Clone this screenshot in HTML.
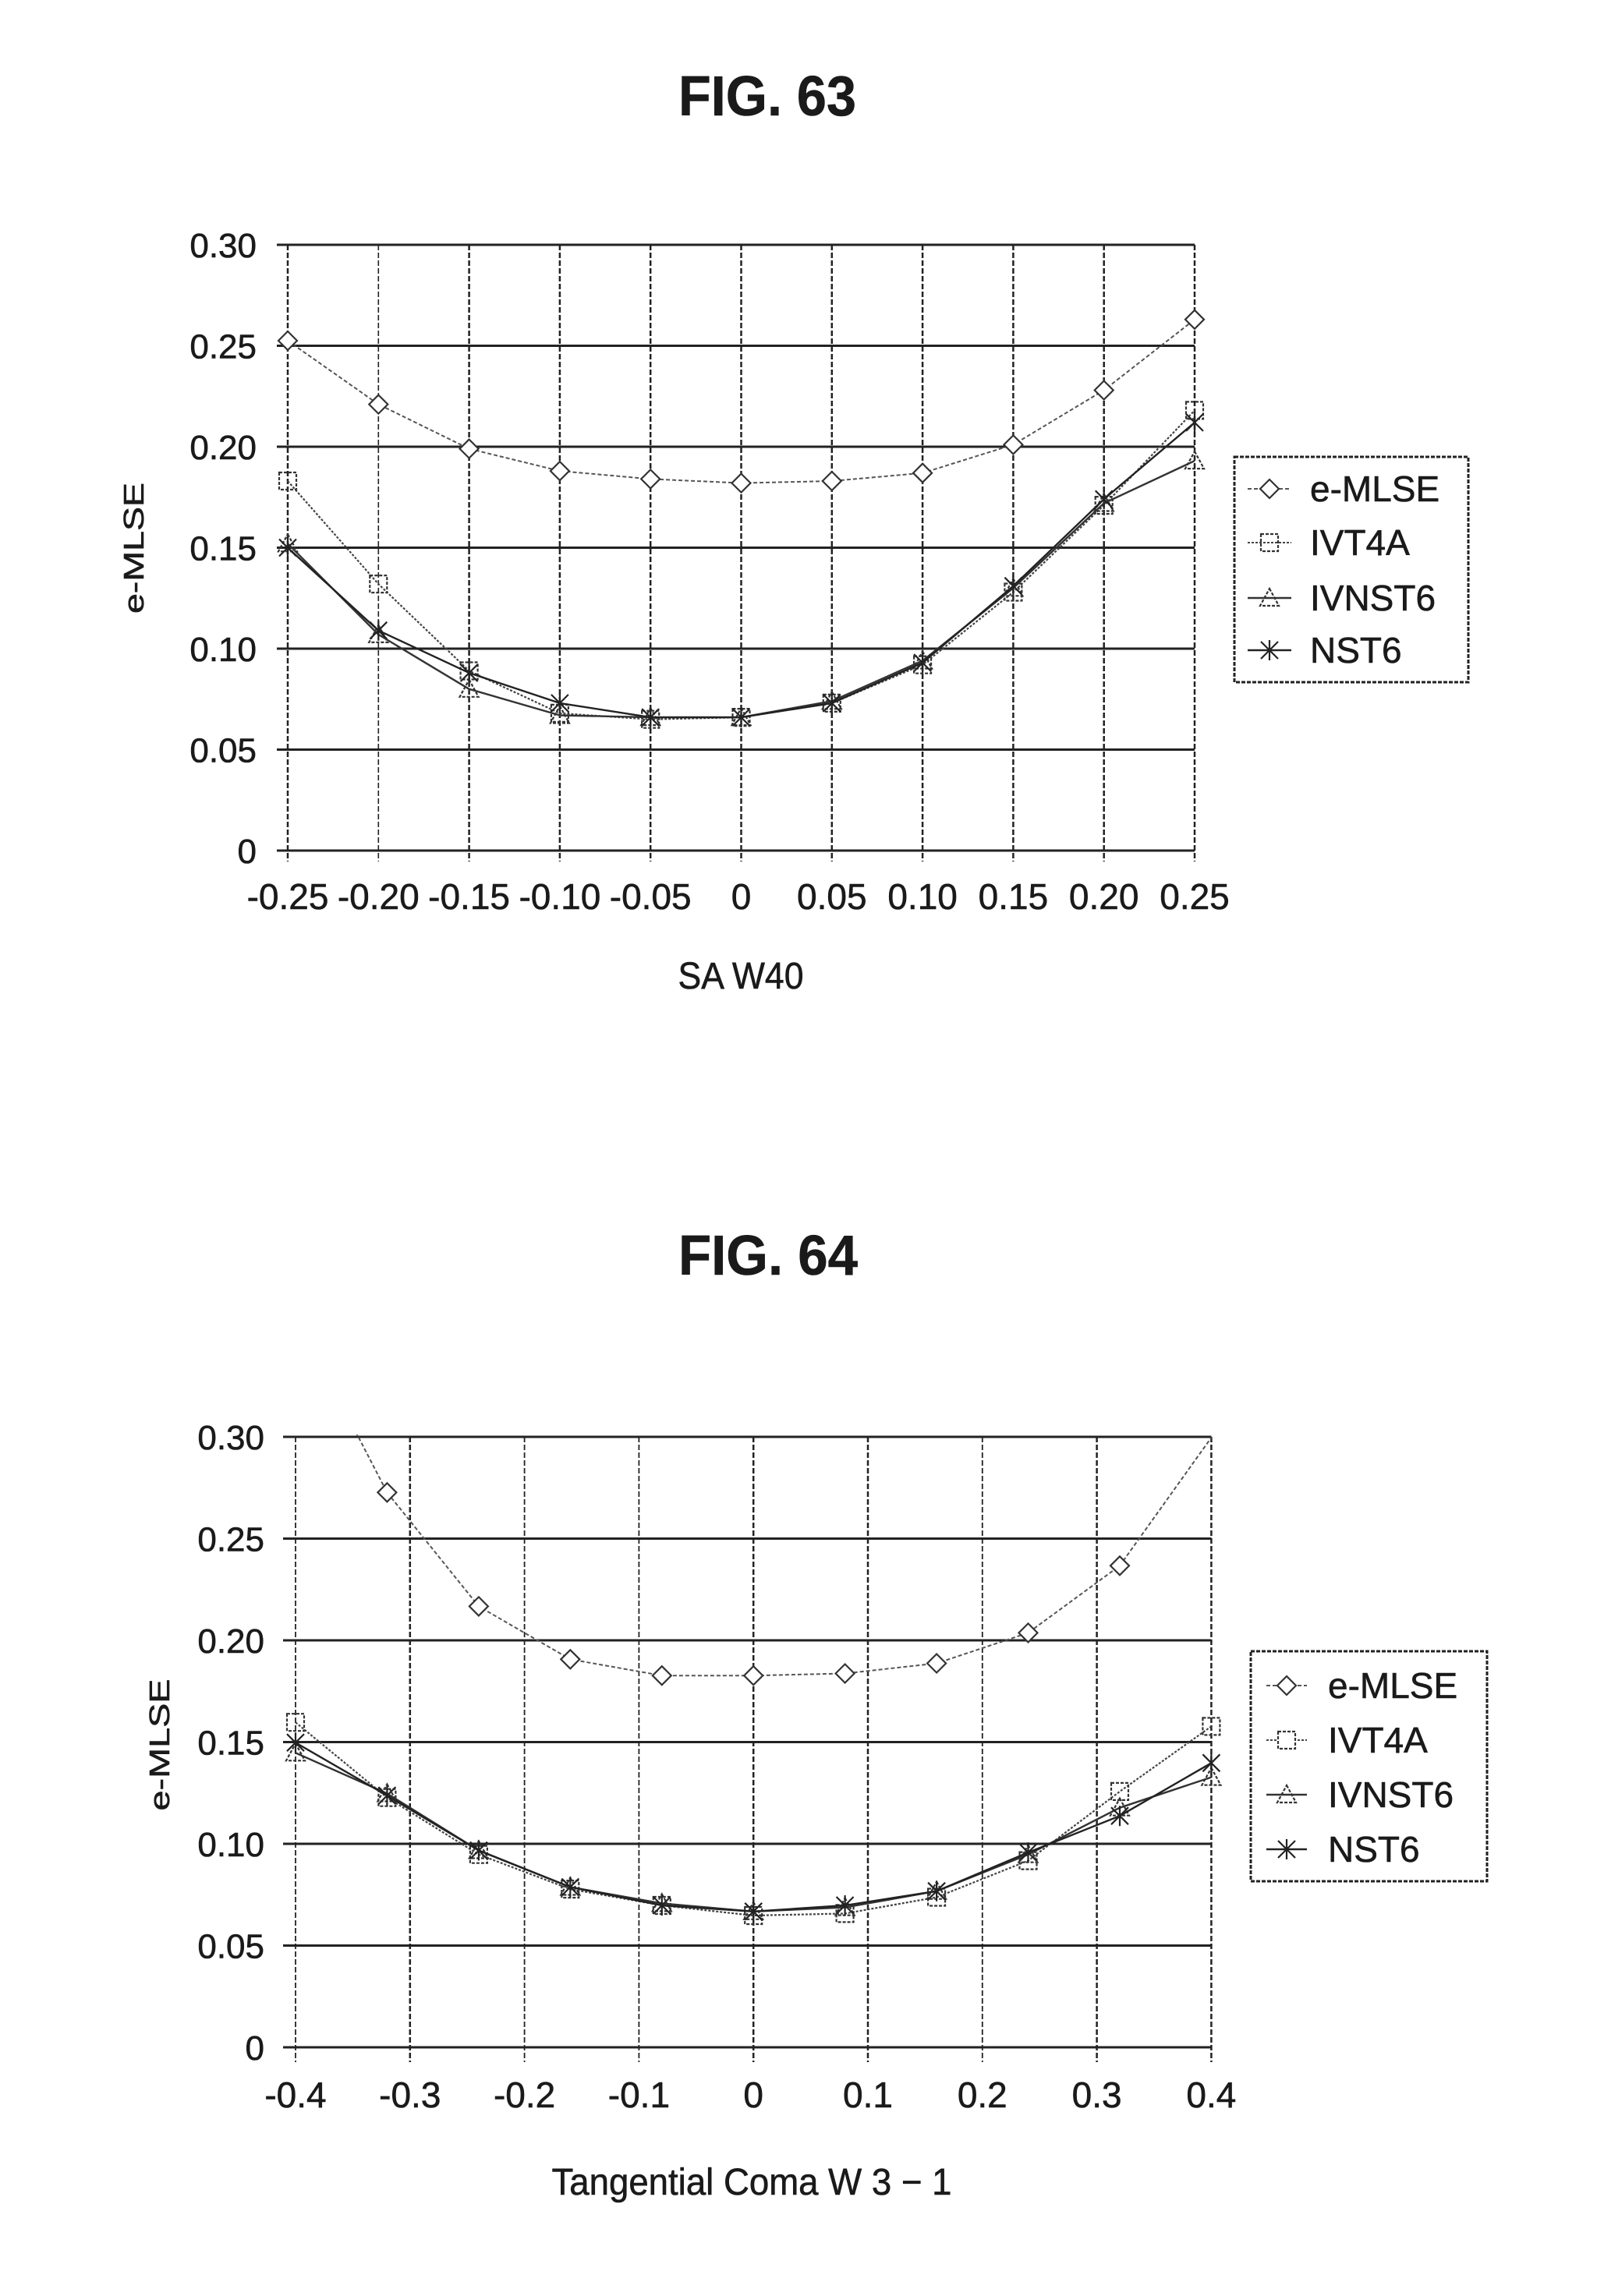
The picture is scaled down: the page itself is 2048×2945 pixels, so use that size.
<!DOCTYPE html>
<html>
<head>
<meta charset="utf-8">
<style>
  html, body { margin:0; padding:0; background:#fff; }
  svg { display:block; }
  text { font-family: "Liberation Sans", "DejaVu Sans", sans-serif; fill:#1a1a1a; stroke:#1a1a1a; stroke-width:0.6; }
</style>
</head>
<body>
<svg width="2048" height="2945" viewBox="0 0 2048 2945" xmlns="http://www.w3.org/2000/svg">
  <defs>
    <marker id="dia" markerUnits="userSpaceOnUse" markerWidth="30" markerHeight="30" refX="15" refY="15" overflow="visible">
      <path d="M15 3 L27 15 L15 27 L3 15 Z" fill="#fff" stroke="#333" stroke-width="2.2"/>
    </marker>
    <marker id="sq" markerUnits="userSpaceOnUse" markerWidth="30" markerHeight="30" refX="15" refY="15" overflow="visible">
      <rect x="4" y="4" width="22" height="22" fill="none" stroke="#333" stroke-width="2.2" stroke-dasharray="4 2"/>
    </marker>
    <marker id="tri" markerUnits="userSpaceOnUse" markerWidth="30" markerHeight="30" refX="15" refY="15" overflow="visible">
      <path d="M15 3 L27 25 L3 25 Z" fill="none" stroke="#333" stroke-width="2.2" stroke-dasharray="4 2"/>
    </marker>
    <marker id="xx" markerUnits="userSpaceOnUse" markerWidth="30" markerHeight="30" refX="15" refY="15" overflow="visible">
      <path d="M4 4 L26 26 M26 4 L4 26 M15 2 L15 28" fill="none" stroke="#222" stroke-width="2.2"/>
    </marker>
    <clipPath id="clip2"><rect x="370" y="1840" width="1200" height="800"/></clipPath>
  </defs>

  <!-- ================= FIG. 63 ================= -->
  <text x="984" y="148" font-size="72" font-weight="bold" text-anchor="middle" textLength="228" lengthAdjust="spacingAndGlyphs">FIG. 63</text>

  <g stroke="#222" stroke-width="3">
    <line x1="355" y1="314" x2="1532" y2="314"/>
    <line x1="355" y1="443.5" x2="1532" y2="443.5"/>
    <line x1="355" y1="573" x2="1532" y2="573"/>
    <line x1="355" y1="702.5" x2="1532" y2="702.5"/>
    <line x1="355" y1="832" x2="1532" y2="832"/>
    <line x1="355" y1="961.5" x2="1532" y2="961.5"/>
    <line x1="355" y1="1091" x2="1532" y2="1091"/>
  </g>
  <g stroke="#222" stroke-width="2.5" stroke-dasharray="7 3">
    <line x1="369" y1="314" x2="369" y2="1105"/>
    <line x1="485.3" y1="314" x2="485.3" y2="1105" stroke-width="1.6"/>
    <line x1="601.6" y1="314" x2="601.6" y2="1105"/>
    <line x1="717.9" y1="314" x2="717.9" y2="1105"/>
    <line x1="834.2" y1="314" x2="834.2" y2="1105"/>
    <line x1="950.5" y1="314" x2="950.5" y2="1105"/>
    <line x1="1066.8" y1="314" x2="1066.8" y2="1105"/>
    <line x1="1183.1" y1="314" x2="1183.1" y2="1105"/>
    <line x1="1299.4" y1="314" x2="1299.4" y2="1105"/>
    <line x1="1415.7" y1="314" x2="1415.7" y2="1105"/>
    <line x1="1532" y1="314" x2="1532" y2="1105"/>
  </g>

  <g font-size="44" text-anchor="end">
    <text x="329" y="330">0.30</text>
    <text x="329" y="459.5">0.25</text>
    <text x="329" y="589">0.20</text>
    <text x="329" y="718.5">0.15</text>
    <text x="329" y="848">0.10</text>
    <text x="329" y="977.5">0.05</text>
    <text x="329" y="1107">0</text>
  </g>
  <g font-size="46" text-anchor="middle">
    <text x="369" y="1166">-0.25</text>
    <text x="485.3" y="1166">-0.20</text>
    <text x="601.6" y="1166">-0.15</text>
    <text x="717.9" y="1166">-0.10</text>
    <text x="834.2" y="1166">-0.05</text>
    <text x="950.5" y="1166">0</text>
    <text x="1066.8" y="1166">0.05</text>
    <text x="1183.1" y="1166">0.10</text>
    <text x="1299.4" y="1166">0.15</text>
    <text x="1415.7" y="1166">0.20</text>
    <text x="1532" y="1166">0.25</text>
  </g>
  <text x="950" y="1268" font-size="48" text-anchor="middle" textLength="161" lengthAdjust="spacingAndGlyphs">SA W40</text>
  <text transform="translate(172,703) rotate(-90)" x="0" y="12" font-size="36" text-anchor="middle" textLength="168" lengthAdjust="spacingAndGlyphs">e-MLSE</text>

  <g fill="none" stroke-linejoin="round">
    <polyline stroke="#555" stroke-width="2" stroke-dasharray="5 3" marker-start="url(#dia)" marker-mid="url(#dia)" marker-end="url(#dia)"
      points="369,437 485.3,518.6 601.6,575.6 717.9,604.1 834.2,614.4 950.5,619.6 1066.8,617 1183.1,606.7 1299.4,570.4 1415.7,500.5 1532,409.8"/>
    <polyline stroke="#444" stroke-width="2.2" stroke-dasharray="3 2" marker-start="url(#sq)" marker-mid="url(#sq)" marker-end="url(#sq)"
      points="369,617 485.3,749.1 601.6,860.5 717.9,914.9 834.2,922.7 950.5,920.1 1066.8,901.9 1183.1,852.7 1299.4,759.5 1415.7,648.1 1532,526.4"/>
    <polyline stroke="#333" stroke-width="2.4" marker-start="url(#tri)" marker-mid="url(#tri)" marker-end="url(#tri)"
      points="369,697.3 485.3,813.9 601.6,883.8 717.9,917.5 834.2,920.1 950.5,920.1 1066.8,899.3 1183.1,847.5 1299.4,754.3 1415.7,645.5 1532,591.1"/>
    <polyline stroke="#222" stroke-width="2.4" marker-start="url(#xx)" marker-mid="url(#xx)" marker-end="url(#xx)"
      points="369,702.5 485.3,808.7 601.6,863.1 717.9,901.9 834.2,920.1 950.5,920.1 1066.8,901.9 1183.1,850.1 1299.4,751.7 1415.7,640.3 1532,541.9"/>
  </g>

  <rect x="1583" y="586" width="300" height="289" fill="#fff" stroke="#222" stroke-width="3" stroke-dasharray="5 2"/>
  <g fill="none">
    <line x1="1600" y1="627" x2="1656" y2="627" stroke="#555" stroke-width="2" stroke-dasharray="5 3"/>
    <path d="M1628 615 L1640 627 L1628 639 L1616 627 Z" fill="#fff" stroke="#333" stroke-width="2.2"/>
    <line x1="1600" y1="696" x2="1656" y2="696" stroke="#444" stroke-width="2" stroke-dasharray="3 2"/>
    <rect x="1617" y="685" width="22" height="22" stroke="#333" stroke-width="2.2" stroke-dasharray="4 2"/>
    <line x1="1600" y1="767" x2="1656" y2="767" stroke="#333" stroke-width="2.4"/>
    <path d="M1628 755 L1640 777 L1616 777 Z" stroke="#333" stroke-width="2.2" stroke-dasharray="4 2"/>
    <line x1="1600" y1="834" x2="1656" y2="834" stroke="#222" stroke-width="2.4"/>
    <path d="M1617 823 L1639 845 M1639 823 L1617 845 M1628 821 L1628 847" stroke="#222" stroke-width="2.2"/>
  </g>
  <g font-size="46">
    <text x="1680" y="643">e-MLSE</text>
    <text x="1680" y="712">IVT4A</text>
    <text x="1680" y="783">IVNST6</text>
    <text x="1680" y="850">NST6</text>
  </g>

  <!-- ================= FIG. 64 ================= -->
  <text x="985" y="1635" font-size="72" font-weight="bold" text-anchor="middle" textLength="230" lengthAdjust="spacingAndGlyphs">FIG. 64</text>

  <g stroke="#222" stroke-width="3">
    <line x1="363" y1="1843" x2="1553.4" y2="1843"/>
    <line x1="363" y1="1973.5" x2="1553.4" y2="1973.5"/>
    <line x1="363" y1="2104" x2="1553.4" y2="2104"/>
    <line x1="363" y1="2234.5" x2="1553.4" y2="2234.5"/>
    <line x1="363" y1="2365" x2="1553.4" y2="2365"/>
    <line x1="363" y1="2495.5" x2="1553.4" y2="2495.5"/>
    <line x1="363" y1="2626" x2="1553.4" y2="2626"/>
  </g>
  <g stroke="#222" stroke-width="2.5" stroke-dasharray="7 3">
    <line x1="379" y1="1843" x2="379" y2="2645" stroke-width="1.8"/>
    <line x1="525.8" y1="1843" x2="525.8" y2="2645"/>
    <line x1="672.6" y1="1843" x2="672.6" y2="2645" stroke-width="1.8"/>
    <line x1="819.4" y1="1843" x2="819.4" y2="2645" stroke-width="1.8"/>
    <line x1="966.2" y1="1843" x2="966.2" y2="2645"/>
    <line x1="1113" y1="1843" x2="1113" y2="2645"/>
    <line x1="1259.8" y1="1843" x2="1259.8" y2="2645" stroke-width="1.8"/>
    <line x1="1406.6" y1="1843" x2="1406.6" y2="2645"/>
    <line x1="1553.4" y1="1843" x2="1553.4" y2="2645"/>
  </g>

  <g font-size="44" text-anchor="end">
    <text x="339" y="1859">0.30</text>
    <text x="339" y="1989.5">0.25</text>
    <text x="339" y="2120">0.20</text>
    <text x="339" y="2250.5">0.15</text>
    <text x="339" y="2381">0.10</text>
    <text x="339" y="2511.5">0.05</text>
    <text x="339" y="2642">0</text>
  </g>
  <g font-size="46" text-anchor="middle">
    <text x="379" y="2703">-0.4</text>
    <text x="525.8" y="2703">-0.3</text>
    <text x="672.6" y="2703">-0.2</text>
    <text x="819.4" y="2703">-0.1</text>
    <text x="966.2" y="2703">0</text>
    <text x="1113" y="2703">0.1</text>
    <text x="1259.8" y="2703">0.2</text>
    <text x="1406.6" y="2703">0.3</text>
    <text x="1553.4" y="2703">0.4</text>
  </g>
  <text x="964" y="2815" font-size="48" text-anchor="middle" textLength="513" lengthAdjust="spacingAndGlyphs">Tangential Coma W 3 − 1</text>
  <text transform="translate(205,2238) rotate(-90)" x="0" y="12" font-size="36" text-anchor="middle" textLength="169" lengthAdjust="spacingAndGlyphs">e-MLSE</text>

  <g fill="none" stroke-linejoin="round">
    <g clip-path="url(#clip2)">
      <polyline stroke="#555" stroke-width="2" stroke-dasharray="5 3" marker-mid="url(#dia)"
        points="379,1687.4 496.4,1914.3 613.9,2060.4 731.3,2128.3 848.8,2149.2 966.2,2149.2 1083.6,2146.5 1201.1,2133.5 1318.5,2094.4 1436,2008.3 1553.4,1843.9"/>
    </g>
    <polyline stroke="#444" stroke-width="2.2" stroke-dasharray="3 2" marker-start="url(#sq)" marker-mid="url(#sq)" marker-end="url(#sq)"
      points="379,2209.2 496.4,2305.7 613.9,2378.7 731.3,2423.1 848.8,2444 966.2,2457 1083.6,2454.4 1201.1,2433.5 1318.5,2386.6 1436,2297.9 1553.4,2214.4"/>
    <polyline stroke="#333" stroke-width="2.4" marker-start="url(#tri)" marker-mid="url(#tri)" marker-end="url(#tri)"
      points="379,2248.3 496.4,2300.5 613.9,2373.5 731.3,2420.5 848.8,2441.4 966.2,2451.8 1083.6,2446.6 1201.1,2425.7 1318.5,2378.7 1436,2318.7 1553.4,2279.6"/>
    <polyline stroke="#222" stroke-width="2.4" marker-start="url(#xx)" marker-mid="url(#xx)" marker-end="url(#xx)"
      points="379,2235.2 496.4,2303.1 613.9,2373.5 731.3,2420.5 848.8,2444 966.2,2451.8 1083.6,2444 1201.1,2425.7 1318.5,2376.1 1436,2329.2 1553.4,2261.3"/>
  </g>

  <rect x="1604" y="2118" width="303" height="295" fill="#fff" stroke="#222" stroke-width="3" stroke-dasharray="5 2"/>
  <g fill="none">
    <line x1="1624" y1="2162" x2="1676" y2="2162" stroke="#555" stroke-width="2" stroke-dasharray="5 3"/>
    <path d="M1650 2150 L1662 2162 L1650 2174 L1638 2162 Z" fill="#fff" stroke="#333" stroke-width="2.2"/>
    <line x1="1624" y1="2232" x2="1676" y2="2232" stroke="#444" stroke-width="2" stroke-dasharray="3 2"/>
    <rect x="1639" y="2221" width="22" height="22" fill="#fff" stroke="#333" stroke-width="2.2" stroke-dasharray="4 2"/>
    <line x1="1624" y1="2302" x2="1676" y2="2302" stroke="#333" stroke-width="2.4"/>
    <path d="M1650 2290 L1662 2312 L1638 2312 Z" stroke="#333" stroke-width="2.2" stroke-dasharray="4 2"/>
    <line x1="1624" y1="2372" x2="1676" y2="2372" stroke="#222" stroke-width="2.4"/>
    <path d="M1639 2361 L1661 2383 M1661 2361 L1639 2383 M1650 2359 L1650 2385" stroke="#222" stroke-width="2.2"/>
  </g>
  <g font-size="46">
    <text x="1703" y="2178">e-MLSE</text>
    <text x="1703" y="2248">IVT4A</text>
    <text x="1703" y="2318">IVNST6</text>
    <text x="1703" y="2388">NST6</text>
  </g>
</svg>
</body>
</html>
